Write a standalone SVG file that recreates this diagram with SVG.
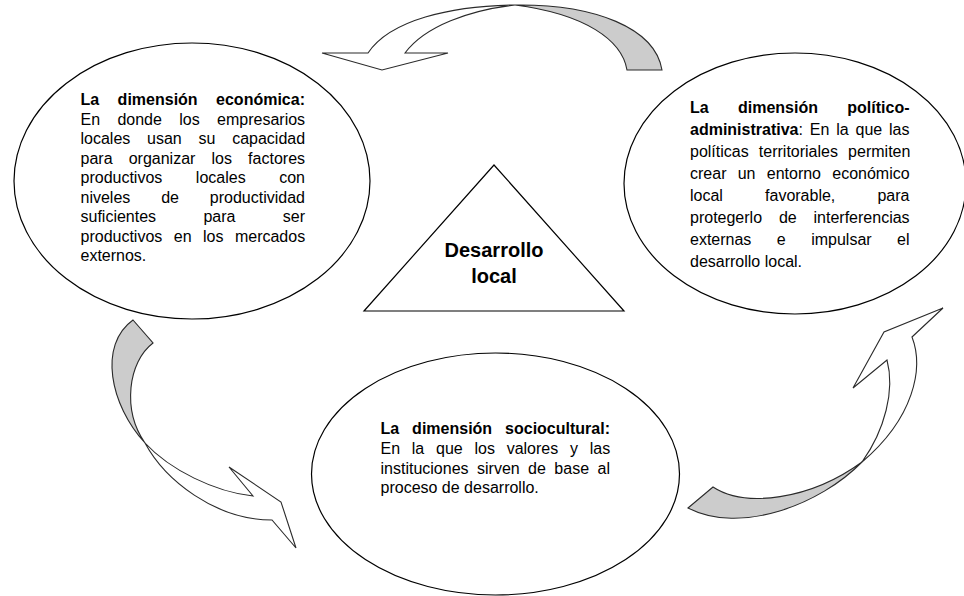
<svg xmlns="http://www.w3.org/2000/svg" width="964" height="596" viewBox="0 0 964 596">
<style>
.bg{fill:#ffffff}
.ell{fill:#ffffff;stroke:#000000;stroke-width:1.2}
.tri{fill:#ffffff;stroke:#000000;stroke-width:1.2}
.aw{fill:#ffffff;stroke:#2a2a2a;stroke-width:1.1;stroke-linejoin:miter}
.ag{fill:#cccccc;stroke:#2a2a2a;stroke-width:1.1;stroke-linejoin:miter}
text{font-family:"Liberation Sans",Arial,sans-serif;font-size:16px;fill:#000000;font-kerning:none}
.b{font-weight:bold}
.title{font-size:20px;font-weight:bold;text-anchor:middle}
</style>
<rect class="bg" x="0" y="0" width="964" height="596"/>
<g id="connectors">
  <g id="arrow-top">
    <path class="aw" d="M322,53 L368,53 C390,20 450,6 515,5 C470,10 425,26 405,53 L448,53 L382,70 Z"/>
    <path class="ag" d="M515,5 C595,4 655,28 662,70 L627,70 C622,40 585,14 515,5 Z"/>
  </g>
  <g id="arrow-left">
    <path class="ag" d="M133,320 L153,343 C128,362 122,410 145,443 C110,405 98,345 133,320 Z"/>
    <path class="aw" d="M145,443 C165,480 215,520 272,520 L296,548 L281,502 L229,467 L253,496 C215,492 170,470 145,443 Z"/>
  </g>
  <g id="arrow-right">
    <path class="ag" d="M688,508 L713,487 C745,508 810,500 862,462 C820,505 740,535 688,508 Z"/>
    <path class="aw" d="M862,462 C885,430 895,390 887,360 L853,388 L884,332 L943,308 L912,337 C924,368 914,418 862,462 Z"/>
  </g>
</g>
<g id="node-economica">
  <ellipse class="ell" cx="192" cy="181" rx="178" ry="138"/>
  <text x="80.5" y="105" class="b" style="word-spacing:14px">La dimensión económica:</text>
  <text x="80.5" y="124.5" style="word-spacing:12.9px">En donde los empresarios</text>
  <text x="80.5" y="144" style="word-spacing:12.3px">locales usan su capacidad</text>
  <text x="80.5" y="163.5" style="word-spacing:11.7px">para organizar los factores</text>
  <text x="80.5" y="183" style="word-spacing:29.1px">productivos locales con</text>
  <text x="80.5" y="202.5" style="word-spacing:26.4px">niveles de productividad</text>
  <text x="80.5" y="222" style="word-spacing:42.9px">suficientes para ser</text>
  <text x="80.5" y="241.5" style="word-spacing:7px">productivos en los mercados</text>
  <text x="80.5" y="261">externos.</text>
</g>
<g id="node-politico">
  <ellipse class="ell" cx="795" cy="183.5" rx="171" ry="130.5"/>
  <text x="690" y="113" class="b" style="word-spacing:24.85px">La dimensión político-</text>
  <text x="690" y="135" style="word-spacing:2.4px"><tspan class="b">administrativa</tspan>: En la que las</text>
  <text x="690" y="157" style="word-spacing:5.7px">políticas territoriales permiten</text>
  <text x="690" y="179" style="word-spacing:6.8px">crear un entorno económico</text>
  <text x="690" y="201" style="word-spacing:37.7px">local favorable, para</text>
  <text x="690" y="223" style="word-spacing:12.4px">protegerlo de interferencias</text>
  <text x="690" y="245" style="word-spacing:21px">externas e impulsar el</text>
  <text x="690" y="267">desarrollo local.</text>
</g>
<g id="node-sociocultural">
  <ellipse class="ell" cx="495.5" cy="474" rx="184" ry="121"/>
  <text x="380.5" y="434" class="b" style="word-spacing:8.5px">La dimensión sociocultural:</text>
  <text x="380.5" y="453.8" style="word-spacing:7.3px">En la que los valores y las</text>
  <text x="380.5" y="473.6" style="word-spacing:4px">instituciones sirven de base al</text>
  <text x="380.5" y="493.4">proceso de desarrollo.</text>
</g>
<g id="node-desarrollo">
  <polygon class="tri" points="494,165 364,311 624,311"/>
  <text x="494" y="257" class="title">Desarrollo</text>
  <text x="494" y="283" class="title">local</text>
</g>
</svg>
